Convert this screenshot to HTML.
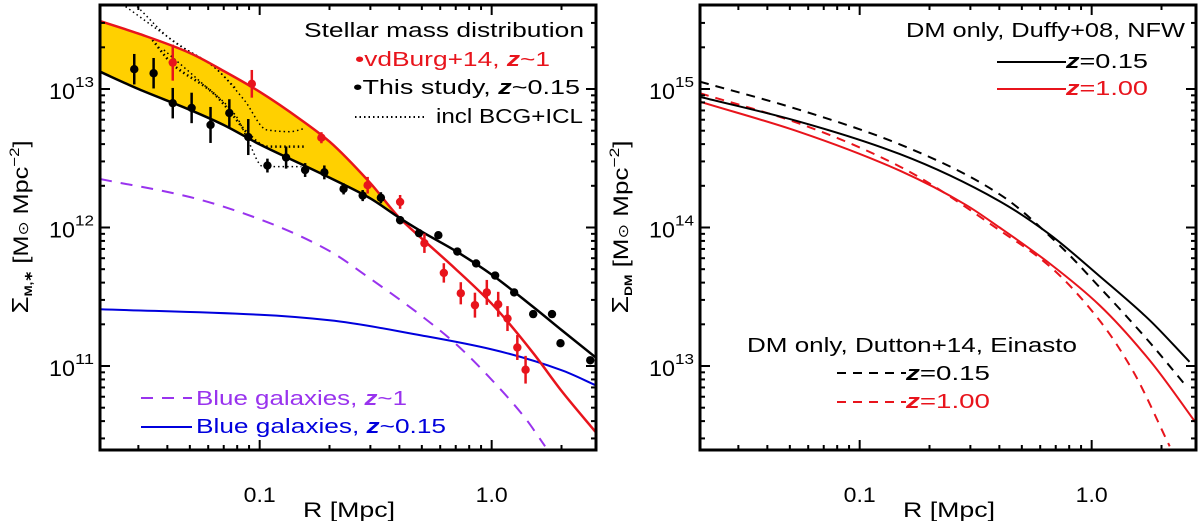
<!DOCTYPE html>
<html><head><meta charset="utf-8"><style>
html,body{margin:0;padding:0;background:#fff;}
svg{display:block;font-family:"Liberation Sans",sans-serif;}
</style></head><body>
<svg id="chart" width="1200" height="521" viewBox="0 0 1200 521" xmlns="http://www.w3.org/2000/svg">
<g id="left"></g>
<g id="right"></g>
</svg>
<script>
// ---------- Left panel data (R in Mpc, Sigma in 1e12 Msun/Mpc^2) ----------
const thisR = [0.0288,0.0349,0.0422,0.0509,0.0614,0.0740,0.0893,0.108,0.130,0.157,0.190,0.230,0.278,0.333,0.403,0.486,0.589,0.711,0.857,1.035,1.25,1.51,1.82,1.98,2.66];
const thisS = [13.9,13.0,7.9,7.3,5.5,6.7,4.5,2.8,3.2,2.6,2.5,1.9,1.7,1.64,1.13,0.91,0.88,0.67,0.55,0.45,0.34,0.237,0.237,0.146,0.110];
const thisErr = [0.11,0.11,0.11,0.11,0.13,0.10,0.13,0.05,0.08,0.05,0.05,0.04,0.04,0.04,0.03,0,0,0,0,0,0,0,0,0,0];
const vdbR = [0.0422,0.0925,0.1845,0.292,0.403,0.513,0.622,0.736,0.847,0.953,1.067,1.17,1.29,1.40];
const vdbS = [15.5,10.9,4.45,2.02,1.53,0.77,0.47,0.335,0.275,0.34,0.279,0.22,0.136,0.094];
const vdbErr = [0.13,0.10,0.04,0.06,0.05,0.07,0.07,0.08,0.09,0.09,0.09,0.09,0.09,0.10];
const fitR = [0.0205,0.03,0.05,0.07,0.1,0.15,0.2,0.3,0.4,0.5,0.7,1.0,1.5,2.0,2.816];
const fitLowLog = [13.125,13.0,12.85,12.74,12.60,12.46,12.36,12.21,12.07,11.97,11.83,11.66,11.43,11.26,11.06];
const fitHighLog = [13.49,13.40,13.26,13.13,12.98,12.78,12.62,12.32,12.07,11.92,11.70,11.45,11.10,10.82,10.52];
const purpleR = [0.0205,0.05,0.1,0.2,0.3,0.5,0.7,1.0,1.4,1.7];
const purpleLog = [12.35,12.22,12.06,11.83,11.63,11.36,11.16,10.90,10.62,10.42];
const blueR = [0.0205,0.1,0.2,0.5,1.0,2.0,2.816];
const blueLog = [11.41,11.37,11.33,11.22,11.12,10.97,10.86];
const dotA = [[-1.462,13.354],[-1.380,13.186],[-1.199,12.969],[-1.133,12.848],[-1.051,12.680],[-0.968,12.584],[-0.804,12.584]];
const dotB = [[-1.528,13.595],[-1.380,13.354],[-1.199,13.162],[-1.067,12.921],[-0.968,12.704],[-0.869,12.692],[-0.804,12.716]];
const dotC = [[-1.413,13.282],[-1.248,13.041],[-1.100,12.800],[-1.051,12.632],[-0.985,12.440],[-0.820,12.440]];
const dotD = [[-1.578,13.595],[-1.33,13.30],[-1.199,13.162],[-1.10,13.0]];
// ---------- Right panel data (R in Mpc, log10 Sigma_DM) ----------
const nfw015R = [0.0205,0.055,0.149,0.401,0.659,1.08,1.78,2.64];
const nfw015 = [14.944,14.764,14.53,14.19,13.95,13.65,13.33,13.03];
const ein015R = [0.0205,0.055,0.149,0.401,0.728,1.08,1.78,2.57];
const ein015 = [15.053,14.85,14.60,14.24,13.87,13.57,13.17,12.85];
const nfw100R = [0.0205,0.055,0.149,0.289,0.401,0.659,1.08,1.78,2.84];
const nfw100 = [14.908,14.69,14.41,14.16,14.00,13.74,13.44,13.04,12.58];
const ein100R = [0.0205,0.055,0.149,0.401,0.659,1.08,1.50,2.17];
const ein100 = [14.97,14.75,14.44,13.98,13.72,13.33,12.97,12.42];
const xTickLabels = ["0.1","1.0"];

const NS='http://www.w3.org/2000/svg';
function mk(tag, attrs, parent){const e=document.createElementNS(NS,tag);for(const k in attrs)e.setAttribute(k,attrs[k]);parent.appendChild(e);return e;}

function makePanel(offX, yTop){
  const x0=offX+100, x1=offX+596, yT=5, yB=450;
  const xMin=0.0205;
  const xs=R=>x0+232*(Math.log10(R)-Math.log10(xMin));
  const xl=l=>x0+232*(l-Math.log10(xMin));
  const ys=l=>89+(yTop-l)*138.5;
  return {x0,x1,yT,yB,xs,xl,ys};
}

// monotone cubic (Fritsch-Carlson) through screen points sorted by x
function smooth(p){
  const n=p.length;
  let d='M'+p[0][0].toFixed(1)+','+p[0][1].toFixed(1);
  if(n<3){for(let i=1;i<n;i++)d+=' L'+p[i][0].toFixed(1)+','+p[i][1].toFixed(1);return d;}
  const dx=[],s=[];for(let i=0;i<n-1;i++){dx.push(p[i+1][0]-p[i][0]);s.push((p[i+1][1]-p[i][1])/dx[i]);}
  const m=[s[0]];for(let i=1;i<n-1;i++){if(s[i-1]*s[i]<=0)m.push(0);else{const w1=2*dx[i]+dx[i-1],w2=dx[i]+2*dx[i-1];m.push((w1+w2)/(w1/s[i-1]+w2/s[i]));}}
  m.push(s[n-2]);
  for(let i=0;i<n-1;i++){const h=dx[i]/3;
    d+=' C'+(p[i][0]+h).toFixed(1)+','+(p[i][1]+m[i]*h).toFixed(1)+' '+(p[i+1][0]-h).toFixed(1)+','+(p[i+1][1]-m[i+1]*h).toFixed(1)+' '+p[i+1][0].toFixed(1)+','+p[i+1][1].toFixed(1);}
  return d;
}
function pts(Rs,Ls,P){return Rs.map((r,i)=>[P.xs(r),P.ys(Ls[i])]);}
function ptsLog(a,P){return a.map(p=>[P.xl(p[0]),P.ys(p[1])]);}

function txt(g,x,y,anchor,col,html,name,len){const a={x:x,y:y,'text-anchor':anchor,'font-size':20,fill:col};
  if(len){a.textLength=len;a.lengthAdjust='spacingAndGlyphs';}
  const t=mk('text',a,g);
  t.innerHTML=html;return t;}

function drawAxes(g,P,yTop,ylabelParts){
  for(let d=-2;d<=0;d++){for(let m=1;m<=9;m++){const v=m*Math.pow(10,d);const x=P.xs(v);if(x<P.x0+1||x>P.x1-1)continue;const L=m===1?10:5;
    const t1=mk('line',{x1:x,x2:x,y1:P.yB,y2:P.yB-L,stroke:'#000','stroke-width':2},g);
    
    const t2=mk('line',{x1:x,x2:x,y1:P.yT,y2:P.yT+L,stroke:'#000','stroke-width':2},g);
    }}
  for(let d=yTop-3;d<=yTop+1;d++){for(let m=1;m<=9;m++){const l=d+Math.log10(m);const y=P.ys(l);if(y<P.yT+1||y>P.yB-1)continue;const L=m===1?10:5;
    const t1=mk('line',{x1:P.x0,x2:P.x0+L,y1:y,y2:y,stroke:'#000','stroke-width':2},g);
    
    const t2=mk('line',{x1:P.x1,x2:P.x1-L,y1:y,y2:y,stroke:'#000','stroke-width':2},g);
    
    if(m===1){const t=mk('text',{x:P.x0-51,y:y+10,'text-anchor':'start','font-size':22},g);
      
      t.innerHTML='<tspan textLength="26" lengthAdjust="spacingAndGlyphs">10</tspan><tspan dy="-12" font-size="15" textLength="19" lengthAdjust="spacingAndGlyphs">'+d+'</tspan>';}}}
  [0.1,1.0].forEach((v,i)=>{const t=mk('text',{x:P.xs(v),y:502,'text-anchor':'middle','font-size':21,textLength:32,lengthAdjust:'spacingAndGlyphs'},g);
    t.textContent=xTickLabels[i];});
  const xt=mk('text',{x:P.x0+203,y:517,'text-anchor':'start','font-size':21,textLength:92,lengthAdjust:'spacingAndGlyphs'},g);
  xt.textContent='R [Mpc]';
  const yt=mk('text',{x:0,y:0,'text-anchor':'middle','font-size':21,textLength:173,lengthAdjust:'spacingAndGlyphs',transform:'translate('+(P.x0-72)+',227) rotate(-90)'},g);
  
  yt.innerHTML='<tspan font-size="23">Σ</tspan><tspan dy="4" font-size="11" font-weight="bold">'+ylabelParts+'</tspan><tspan dy="-4"> [M</tspan><tspan font-size="14">⊙</tspan> Mpc<tspan dy="-9" font-size="14">−2</tspan><tspan dy="9">]</tspan>';
  const fr=mk('rect',{x:P.x0,y:P.yT,width:P.x1-P.x0,height:P.yB-P.yT,fill:'none',stroke:'#000','stroke-width':3},g);
  
}

// ===== Left panel =====
const gL=document.getElementById('left');
const PL=makePanel(0,13);
const clipL=mk('clipPath',{id:'clipL'},gL);
mk('rect',{x:PL.x0,y:PL.yT,width:PL.x1-PL.x0,height:PL.yB-PL.yT},clipL);
const plotL=mk('g',{'clip-path':'url(#clipL)'},gL);

(function(){let up=[],dn=[];for(let i=0;i<fitR.length;i++){if(fitHighLog[i]>=fitLowLog[i]){up.push([PL.xs(fitR[i]),PL.ys(fitHighLog[i])]);dn.push([PL.xs(fitR[i]),PL.ys(fitLowLog[i])]);}}
 const dnRev=dn.slice().reverse();
 let d=smooth(up)+' '+dnRev.map(p=>'L'+p[0].toFixed(1)+','+p[1].toFixed(1)).join(' ')+' Z';
 const f=mk('path',{d:d,fill:'#ffd000',stroke:'none'},plotL);
 })();
[[dotA,2.5],[dotB,1.5],[dotC,1.5],[dotD,1.5]].forEach(([p0,w])=>{const p=mk('path',{d:smooth(ptsLog(p0,PL)),fill:'none',stroke:'#000','stroke-width':w,'stroke-dasharray':'1.5,3'},plotL);
 });
const pp=mk('path',{d:smooth(pts(purpleR,purpleLog,PL)),fill:'none',stroke:'#9933ee','stroke-width':2,'stroke-dasharray':'12,9'},plotL);

const bp=mk('path',{d:smooth(pts(blueR,blueLog,PL)),fill:'none',stroke:'#0000dd','stroke-width':2},plotL);

const hp=mk('path',{d:smooth(pts(fitR,fitHighLog,PL)),fill:'none',stroke:'#e8141c','stroke-width':2.5},plotL);

const lp=mk('path',{d:smooth(pts(fitR,fitLowLog,PL)),fill:'none',stroke:'#000','stroke-width':2.5},plotL);

function points(Rs,Ss,Es,col,name){Rs.forEach((r,i)=>{const l=Math.log10(Ss[i]*1e12);const x=PL.xs(r);
  if(Es[i]>0){const e=mk('line',{x1:x,x2:x,y1:PL.ys(l+Es[i]),y2:PL.ys(l-Es[i]),stroke:col,'stroke-width':2.5},plotL);
   }
  const c=mk('circle',{cx:x,cy:PL.ys(l),r:4.2,fill:col},plotL);
  });}
points(thisR,thisS,thisErr,'#000','this-study');
points(vdbR,vdbS,vdbErr,'#e8141c','vdburg');
drawAxes(gL,PL,13,'M,∗');
const Z='<tspan font-style="italic" font-weight="bold">z</tspan>';
txt(gL,304,37,'start','#000','Stellar mass distribution','legend-title',280);
txt(gL,355,66,'start','#e8141c','•vdBurg+14, '+Z+'~1','legend-vdburg',195);
txt(gL,353,94,'start','#000','•This study, '+Z+'~0.15','legend-this-study',227);
txt(gL,436,123,'start','#000','incl BCG+ICL','legend-bcg-icl',147);
let l1=mk('line',{x1:355,x2:424,y1:117,y2:117,stroke:'#000','stroke-width':2,'stroke-dasharray':'1.5,3'},gL);

let l2=mk('line',{x1:141,x2:192,y1:398,y2:398,stroke:'#9933ee','stroke-width':2,'stroke-dasharray':'12,9'},gL);

txt(gL,196,405,'start','#9933ee','Blue galaxies, '+Z+'~1','legend-blue-z1',211);
let l3=mk('line',{x1:141,x2:192,y1:427,y2:427,stroke:'#0000dd','stroke-width':2},gL);

txt(gL,196,433,'start','#0000dd','Blue galaxies, '+Z+'~0.15','legend-blue-z015',250);

// ===== Right panel =====
const gR=document.getElementById('right');
const PR=makePanel(600,15);
const clipR=mk('clipPath',{id:'clipR'},gR);
mk('rect',{x:PR.x0,y:PR.yT,width:PR.x1-PR.x0,height:PR.yB-PR.yT},clipR);
const plotR=mk('g',{'clip-path':'url(#clipR)'},gR);

[[ein015R,ein015,'#000',true,'einasto-z015-line'],[ein100R,ein100,'#e8141c',true,'einasto-z100-line'],[nfw015R,nfw015,'#000',false,'nfw-z015-line'],[nfw100R,nfw100,'#e8141c',false,'nfw-z100-line']].forEach(([rr,arr,col,dash,name])=>{
  const a={d:smooth(pts(rr,arr,PR)),fill:'none',stroke:col,'stroke-width':2};if(dash)a['stroke-dasharray']='9,7';
  const p=mk('path',a,plotR);});
drawAxes(gR,PR,15,'DM');
txt(gR,906,37,'start','#000','DM only, Duffy+08, NFW','legend-nfw-title',279);
let r1=mk('line',{x1:997,x2:1066,y1:62,y2:62,stroke:'#000','stroke-width':2},gR);
txt(gR,1066,68,'start','#000',Z+'=0.15','legend-nfw-z015',82);
let r2=mk('line',{x1:997,x2:1066,y1:89,y2:89,stroke:'#e8141c','stroke-width':2},gR);
txt(gR,1066,95,'start','#e8141c',Z+'=1.00','legend-nfw-z100',82);
txt(gR,747,352,'start','#000','DM only, Dutton+14, Einasto','legend-einasto-title',330);
let r3=mk('line',{x1:837,x2:906,y1:373,y2:373,stroke:'#000','stroke-width':2,'stroke-dasharray':'9,7'},gR);
txt(gR,906,380,'start','#000',Z+'=0.15','legend-einasto-z015',84);
let r4=mk('line',{x1:837,x2:906,y1:402,y2:402,stroke:'#e8141c','stroke-width':2,'stroke-dasharray':'9,7'},gR);
txt(gR,906,408,'start','#e8141c',Z+'=1.00','legend-einasto-z100',84);
</script>
</body></html>
